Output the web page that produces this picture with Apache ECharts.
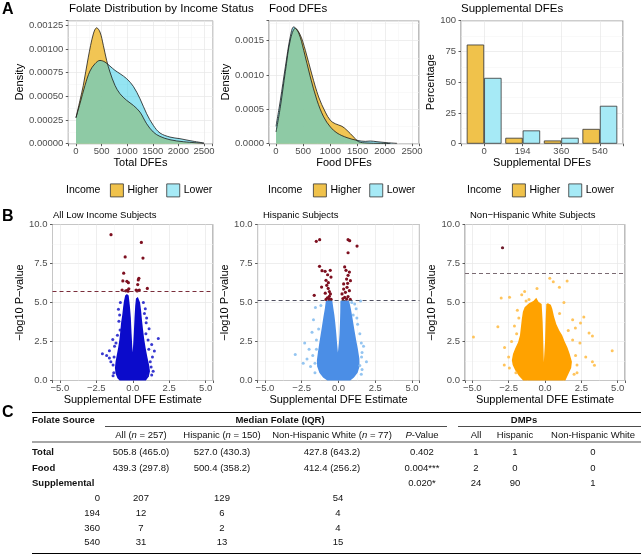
<!DOCTYPE html>
<html><head><meta charset="utf-8">
<script src="https://cdn.jsdelivr.net/npm/echarts@6/dist/echarts.min.js"></script>
<style>html,body{margin:0;padding:0;background:#fff}#c{width:643px;height:555px}</style>
</head><body><div id="c"></div>
<script>
// ---------------- DATA ----------------
// Panel A: density curves [DFE, density]
const totalHigher = [[0,0.000275],[78,0.000458],[143,0.000616],[241,0.000915],[339,0.00116],[404,0.001225],[469,0.00118],[534,0.00104],[599,0.00088],[664,0.000757],[762,0.000616],[859,0.000528],[990,0.000458],[1120,0.000405],[1250,0.000334],[1380,0.000211],[1510,0.000123],[1641,0.000077],[1836,0.000042],[2096,0.000021],[2500,0.000004]];
const totalLower = [[0,0.000275],[78,0.000423],[176,0.000616],[273,0.000768],[371,0.000845],[469,0.00088],[566,0.000863],[664,0.00082],[762,0.000775],[859,0.00074],[990,0.000687],[1120,0.000606],[1250,0.000475],[1380,0.000317],[1510,0.000194],[1641,0.000113],[1836,0.00007],[2031,0.000053],[2227,0.000032],[2500,0.000007]];
const foodHigher = [[0,0.00017],[80,0.000536],[172,0.00105],[263,0.00151],[355,0.00168],[447,0.00158],[539,0.00136],[662,0.001],[784,0.00068],[907,0.00046],[999,0.00034],[1091,0.00029],[1213,0.000253],[1305,0.000195],[1428,0.000097],[1520,0.000029],[1673,0.00001],[1918,0.000005],[2101,0.000002]];
const foodLower = [[0,0.000253],[80,0.000633],[172,0.00112],[263,0.00156],[325,0.0017],[417,0.00161],[509,0.00136],[631,0.00097],[754,0.00063],[876,0.00039],[999,0.000244],[1121,0.000156],[1305,0.000088],[1489,0.000049],[1642,0.000034],[1734,0.000039],[1857,0.000029],[2040,0.000015],[2224,0.000005]];
// Supplemental DFEs percentages
const suppCats = ['0','194','360','540'];
const suppHigher = [80.6, 4.8, 2.6, 12.0];
const suppLower = [53.5, 10.8, 4.8, 30.8];

// Panel B: volcano plots [estimate, -log10 p]
const v1Thresh = 5.7, v2Thresh = 5.15, v3Thresh = 6.85;
const v1Sig = [[-1.49,9.35],[0.59,8.85],[-0.52,7.92],[0.7,7.85],[-0.62,6.88],[0.42,6.55],[-0.68,6.38],[-0.4,6.36],[-0.3,6.27],[0.38,6.45],[0.34,6.15],[-0.73,5.8],[-0.37,5.78],[-0.27,5.88],[0.23,5.8],[0.45,5.8],[1.0,5.9],[-0.48,5.75],[-0.32,5.72],[0.3,5.74]];
const v1Cloud = [[-0.9,0],[-1.05,0.15],[-1.18,0.45],[-1.22,0.8],[-1.18,1.2],[-1.1,1.6],[-1.0,2.1],[-0.92,2.6],[-0.86,3.1],[-0.8,3.7],[-0.72,4.2],[-0.66,4.7],[-0.6,5.1],[-0.52,5.45],[-0.4,5.55],[-0.28,5.45],[-0.2,4.8],[-0.13,4.0],[-0.08,3.0],[-0.04,2.3],[-0.01,1.8],[0.03,2.3],[0.07,3.0],[0.12,4.0],[0.17,4.8],[0.22,5.25],[0.35,5.35],[0.5,5.0],[0.57,4.5],[0.63,3.9],[0.7,3.3],[0.78,2.7],[0.88,2.1],[1.0,1.5],[1.12,1.0],[1.18,0.6],[1.1,0.25],[0.9,0]];
const v1Out = [[-2.08,1.71],[-1.79,1.6],[-1.6,1.9],[-1.37,2.63],[-1.25,2.2],[-1.5,1.2],[-1.35,1.0],[-0.98,4.56],[-0.87,3.24],[-0.95,3.8],[-1.05,2.9],[-1.6,1.45],[-1.3,0.5],[1.75,2.7],[1.12,3.32],[0.92,3.7],[1.48,1.89],[1.26,0.87],[1.2,1.2],[0.86,4.6],[0.73,5.0],[1.3,2.3],[1.05,2.6],[1.35,1.5],[1.4,0.6],[0.95,4.0],[-0.85,5.0],[1.0,0.3],[-1.28,1.5],[-1.15,2.4],[-0.9,4.2],[0.8,4.3],[0.9,3.0],[1.1,2.0],[-1.35,0.3],[1.3,0.35]];
const v2Sig = [[-1.51,8.92],[-1.28,9.03],[-1.29,7.32],[-1.12,7.04],[-0.91,7.0],[-0.56,7.06],[-0.74,6.78],[-0.51,6.63],[-0.85,6.42],[-0.69,6.27],[-1.15,5.99],[-0.8,6.1],[-0.7,5.9],[-0.62,5.7],[-0.55,5.55],[-0.9,5.6],[-1.65,5.46],[-0.62,5.4],[-0.75,5.3],[-0.65,5.25],[-0.85,5.2],[-0.5,5.2],[0.65,9.03],[0.76,8.96],[1.26,8.62],[0.65,8.19],[0.42,7.28],[0.51,7.06],[0.74,6.95],[0.65,6.74],[0.55,6.5],[0.81,6.4],[0.62,6.23],[0.35,6.19],[0.58,5.97],[0.35,5.86],[0.74,5.76],[0.47,5.65],[0.24,5.55],[0.65,5.38],[0.42,5.33],[0.3,5.25],[0.55,5.22],[0.8,5.2]];
const v2Cloud = [[-0.76,0],[-1.05,0.2],[-1.3,0.5],[-1.45,0.9],[-1.47,1.3],[-1.4,1.8],[-1.32,2.3],[-1.22,2.9],[-1.12,3.5],[-1.02,4.1],[-0.93,4.6],[-0.86,5.1],[-0.65,5.15],[-0.42,5.12],[-0.36,4.7],[-0.28,4.2],[-0.22,3.7],[-0.15,3.0],[-0.1,2.4],[-0.04,1.8],[0.03,2.4],[0.07,3.0],[0.1,3.7],[0.12,4.4],[0.13,5.12],[0.45,5.15],[0.72,5.12],[0.84,4.6],[0.95,4.0],[1.07,3.3],[1.2,2.6],[1.32,2.0],[1.42,1.4],[1.43,0.9],[1.3,0.5],[1.05,0.2],[0.8,0]];
const v2Out = [[-2.94,1.66],[-2.3,2.4],[-2.14,1.38],[-1.8,3.1],[-1.57,4.68],[-1.7,3.9],[-2.0,2.0],[-1.9,0.9],[-1.75,1.6],[-2.4,1.1],[-1.2,4.8],[1.57,1.5],[1.45,0.96],[1.5,5.1],[1.0,4.2],[1.3,3.6],[1.7,2.2],[1.6,0.7],[1.9,1.2],[1.2,4.6],[1.45,3.0],[-1.5,2.6],[1.1,4.9],[0.9,5.0],[-1.6,1.1],[-1.5,2.0],[-1.35,3.3],[-1.6,0.5],[1.55,2.4],[1.6,1.8],[1.25,4.0],[1.55,0.4]];
const v3Sig = [[-2.92,8.51]];
const v3Cloud = [[-1.5,0],[-1.8,0.3],[-2.05,0.65],[-2.22,1.0],[-2.28,1.3],[-2.2,1.7],[-2.05,2.05],[-1.85,2.45],[-1.72,2.9],[-1.66,3.4],[-1.6,3.9],[-1.52,4.4],[-1.4,4.7],[-1.1,4.95],[-0.8,5.1],[-0.6,5.3],[-0.45,5.05],[-0.23,4.9],[-0.16,3.74],[-0.12,2.46],[-0.08,1.17],[0.0,2.46],[0.04,3.74],[0.09,4.9],[0.2,4.95],[0.4,4.85],[0.5,4.6],[0.62,4.1],[0.78,3.6],[0.98,3.2],[1.18,2.9],[1.35,2.5],[1.55,2.1],[1.7,1.7],[1.85,1.2],[1.8,0.8],[1.6,0.4],[1.4,0]];
const v3Out = [[-4.92,2.79],[-3.24,3.44],[-3.01,5.29],[-2.44,5.33],[-2.78,2.12],[-2.8,1.0],[-2.5,1.5],[-2.3,2.5],[-2.1,3.5],[-1.9,4.5],[-1.6,5.5],[-1.4,5.7],[-0.55,5.9],[0.33,6.55],[0.57,6.33],[1.52,6.38],[0.99,5.97],[2.67,4.07],[2.44,3.68],[2.09,3.36],[3.03,3.04],[3.26,2.85],[4.62,1.91],[3.26,1.2],[3.4,0.98],[2.8,1.5],[2.2,1.0],[2.4,2.4],[1.9,3.9],[1.3,5.0],[-1.1,5.2],[-2.0,0.5],[2.0,0.4],[-2.45,0.8],[-1.95,3.0],[-1.8,4.0],[1.9,2.6],[2.1,1.6],[1.6,3.2],[1.0,4.3],[-1.3,5.1],[2.2,0.5]];

// Panel C: table
const tblColHeads = ['All ({i|n} = 257)','Hispanic ({i|n} = 150)','Non-Hispanic White ({i|n} = 77)','{i|P}-Value','All','Hispanic','Non-Hispanic White'];
const tblRowLabels = ['Total','Food','Supplemental'];
const tblTotal = ['505.8 (465.0)','527.0 (430.3)','427.8 (643.2)','0.402','1','1','0'];
const tblFood = ['439.3 (297.8)','500.4 (358.2)','412.4 (256.2)','0.004***','2','0','0'];
const tblSupp = ['','','','0.020*','24','90','1'];
const tblLevels = ['0','194','360','540'];
const tblLevelAll = ['207','12','7','31'];
const tblLevelHisp = ['129','6','2','13'];
const tblLevelNHW = ['54','4','4','15'];

// ---------------- STYLE ----------------
const FONT = '"Liberation Sans", Arial, sans-serif';
const GOLD = '#F0C24B', CYAN = '#A6EAF6';
const gridBox = {show:true, borderColor:'#7a7a7a', borderWidth:1, backgroundColor:'#fff'};
function fmtStep(step, dec, minus){
  return function(v){
    const r = v/step;
    if (Math.abs(r-Math.round(r))>1e-6) return '';
    let s = v.toFixed(dec);
    if (minus) s = s.replace('-', '\u2212');
    return s;
  };
}
function axis(g, o){
  return Object.assign({
    type:'value', gridIndex:g,
    axisLine:{show:false, onZero:false},
    axisTick:{show:true, length:2.5, lineStyle:{color:'#333', width:0.8}},
    axisLabel:{fontSize:9.5, color:'#4d4d4d', fontFamily:FONT, margin:3},
    splitLine:{show:true, lineStyle:{color:'#E6E6E6', width:0.7}},
    minorTick:{show:false, splitNumber:2},
    minorSplitLine:{show:true, lineStyle:{color:'#F3F3F3', width:0.5}},
    nameLocation:'middle',
    nameTextStyle:{fontSize:11, color:'#000', fontFamily:FONT}
  }, o);
}

const grids = [
  Object.assign({left:68.3, top:20.7, width:144.4, height:123}, gridBox),
  Object.assign({left:269, top:20.7, width:150, height:123}, gridBox),
  Object.assign({left:461, top:20.7, width:162, height:123}, gridBox),
  Object.assign({left:52.5, top:224.5, width:160.5, height:156}, gridBox),
  Object.assign({left:257.6, top:224.5, width:161.8, height:156}, gridBox),
  Object.assign({left:465, top:224.5, width:160, height:156}, gridBox)
];

const xl = (f)=>({fontSize:9.5,color:'#4d4d4d',fontFamily:FONT,margin:3,formatter:f});
const xAxes = [
  axis(0,{min:-150,max:2670,minInterval:500,maxInterval:500,name:'Total DFEs',nameGap:13,axisLabel:xl(fmtStep(500,0))}),
  axis(1,{min:-129,max:2629,minInterval:500,maxInterval:500,name:'Food DFEs',nameGap:13,axisLabel:xl(fmtStep(500,0))}),
  axis(2,{min:0.4,max:4.6,minInterval:1,maxInterval:1,name:'Supplemental DFEs',nameGap:13,minorSplitLine:{show:false},
    axisLabel:xl(function(v){const r=Math.round(v);return Math.abs(v-r)<1e-6&&r>=1&&r<=suppCats.length?suppCats[r-1]:'';})}),
  axis(3,{min:-5.5,max:5.5,minInterval:2.5,maxInterval:2.5,name:'Supplemental DFE Estimate',nameGap:11,axisLabel:xl(fmtStep(2.5,1,true))}),
  axis(4,{min:-5.5,max:5.5,minInterval:2.5,maxInterval:2.5,name:'Supplemental DFE Estimate',nameGap:11,axisLabel:xl(fmtStep(2.5,1,true))}),
  axis(5,{min:-5.5,max:5.5,minInterval:2.5,maxInterval:2.5,name:'Supplemental DFE Estimate',nameGap:11,axisLabel:xl(fmtStep(2.5,1,true))})
];
const yLab = (f)=>({fontSize:9.5,color:'#4d4d4d',fontFamily:FONT,margin:5,formatter:f});
const yAxes = [
  axis(0,{min:0,max:0.0013,interval:0.00025,name:'Density',nameGap:43,axisLabel:yLab(fmtStep(0.00025,5))}),
  axis(1,{min:0,max:0.00179,interval:0.0005,name:'Density',nameGap:36.5,axisLabel:yLab(fmtStep(0.0005,4))}),
  axis(2,{min:0,max:100,interval:25,name:'Percentage',nameGap:22.5,axisLabel:yLab(fmtStep(25,0))}),
  axis(3,{min:0,max:10,interval:2.5,name:'\u2212log10 P\u2212value',nameGap:27,axisLabel:yLab(fmtStep(2.5,1))}),
  axis(4,{min:0,max:10,interval:2.5,name:'\u2212log10 P\u2212value',nameGap:22,axisLabel:yLab(fmtStep(2.5,1))}),
  axis(5,{min:0,max:10,interval:2.5,name:'\u2212log10 P\u2212value',nameGap:26.5,axisLabel:yLab(fmtStep(2.5,1))})
];

function area(name, data, g, color, opacity){
  return {type:'line', name:name, xAxisIndex:g, yAxisIndex:g, data:data, smooth:0.35, showSymbol:false, symbol:'none',
    lineStyle:{color:'#1a1a1a', width:0.8}, itemStyle:{color:color},
    areaStyle:{color:color, opacity:opacity}, silent:true, z:2};
}
function cloud(data, g, color){
  return {type:'custom', xAxisIndex:g, yAxisIndex:g, data:data, silent:true, z:2,
    renderItem:function(params, api){
      if (params.dataIndex !== 0) return null;
      return {type:'polygon', shape:{points:data.map(p=>api.coord(p))}, style:{fill:color}};
    }};
}
function pts(data, g, color, size, opacity, thresh, lineColor){
  const s = {type:'scatter', xAxisIndex:g, yAxisIndex:g, data:data, symbolSize:size, silent:true, z:3,
    itemStyle:{color:color, opacity:opacity}};
  if (thresh !== undefined) s.markLine = {silent:true, symbol:'none', label:{show:false},
    lineStyle:{color:lineColor, type:[4,3], width:1}, data:[{yAxis:thresh}]};
  return s;
}

const series = [
  area('Higher', totalHigher, 0, GOLD, 0.95),
  area('Lower', totalLower, 0, '#3CCDE8', 0.55),
  area('Higher', foodHigher, 1, GOLD, 0.95),
  area('Lower', foodLower, 1, '#3CCDE8', 0.55),
  {type:'bar', name:'Higher', xAxisIndex:2, yAxisIndex:2, data:suppHigher.map((v,i)=>[i+1,v]), barWidth:17.4, barGap:'0%',
    itemStyle:{color:GOLD, borderColor:'#333', borderWidth:0.8}, silent:true},
  {type:'bar', name:'Lower', xAxisIndex:2, yAxisIndex:2, data:suppLower.map((v,i)=>[i+1,v]), barWidth:17.4, barGap:'0%',
    itemStyle:{color:CYAN, borderColor:'#333', borderWidth:0.8}, silent:true},
  cloud(v1Cloud, 3, '#0B0BCB'),
  pts(v1Out, 3, '#1515C8', 3, 0.85),
  pts(v1Sig, 3, '#7E1020', 3.2, 1, v1Thresh, '#7A2E3B'),
  cloud(v2Cloud, 4, '#4B8EE6'),
  pts(v2Out, 4, '#88BFF0', 3, 0.9),
  pts(v2Sig, 4, '#7E1020', 3.2, 1, v2Thresh, '#505060'),
  cloud(v3Cloud, 5, '#FFA200'),
  pts(v3Out, 5, '#FFBE4A', 3, 0.9),
  pts(v3Sig, 5, '#6E1A2A', 3.2, 1, v3Thresh, '#7a6a72')
];

const legItem = (n,c)=>({name:n, icon:'rect', itemStyle:{color:c, borderColor:'#333', borderWidth:0.8}});
function legend(left){
  return {left:left, top:183.5, orient:'horizontal', itemWidth:13, itemHeight:13, itemGap:8, selectedMode:false,
    padding:0, textStyle:{fontSize:10.5, color:'#000', fontFamily:FONT, padding:[0,0,0,-1]},
    data:[legItem('Higher',GOLD), legItem('Lower',CYAN)]};
}

const titles = [
  {text:'A', left:2, top:2},
  {text:'B', left:2, top:209},
  {text:'C', left:2, top:405}
].map(t=>Object.assign(t,{padding:0, textStyle:{fontSize:16, fontWeight:'bold', color:'#000', fontFamily:FONT}}));
[
  ['Folate Distribution by Income Status', 69, 3, 11.5],
  ['Food DFEs', 269, 3, 11.5],
  ['Supplemental DFEs', 461, 3, 11.5],
  ['All Low Income Subjects', 53, 210, 9.5],
  ['Hispanic Subjects', 263, 210, 9.5],
  ['Non\u2212Hispanic White Subjects', 470, 210, 9.5]
].forEach(a=>titles.push({text:a[0], left:a[1], top:a[2], padding:0, textStyle:{fontSize:a[3], fontWeight:'normal', color:'#000', fontFamily:FONT}}));

// ---------------- TABLE (graphic) ----------------
const TF = 9.5;
const rich = {i:{fontStyle:'italic', fontSize:TF, fontFamily:FONT, fill:'#111'}};
const g = [];
function txt(s, x, y, align, bold){
  g.push({type:'text', x:x, y:y, silent:true, style:{text:s, fontSize:TF, fontFamily:FONT, fontWeight:bold?'bold':'normal', fill:'#111', align:align, verticalAlign:'middle', rich:rich}});
}
function hline(x1, x2, y, w){
  g.push({type:'line', silent:true, shape:{x1:x1, y1:y, x2:x2, y2:y}, style:{stroke:'#000', lineWidth:w}});
}
['Income','Income','Income'].forEach((s,i)=>g.push({type:'text', x:[66,268,467][i], y:190.5, silent:true, style:{text:s, fontSize:10.5, fontFamily:FONT, fill:'#000', verticalAlign:'middle'}}));
hline(32, 641, 412.5, 1.2);
hline(105, 447, 426.5, 0.7);
hline(458, 641, 426.5, 0.7);
hline(32, 641, 442, 0.7);
hline(32, 641, 553.5, 1.2);
txt('Folate Source', 32, 420.5, 'left', true);
txt('Median Folate (IQR)', 280, 420.5, 'center', true);
txt('DMPs', 524, 420.5, 'center', true);
const colX = [141, 222, 332, 422, 476, 515, 593];
tblColHeads.forEach((s,i)=>txt(s, colX[i], 435, 'center'));
const rowY = [452.3, 468.3, 483.3];
[tblTotal, tblFood, tblSupp].forEach((row,r)=>{
  txt(tblRowLabels[r], 32, rowY[r], 'left', true);
  row.forEach((s,i)=>{ if (s) txt(s, colX[i], rowY[r], 'center'); });
});
const levY = [498.3, 513.3, 528.3, 542.8];
tblLevels.forEach((s,i)=>{
  txt(s, 100, levY[i], 'right');
  txt(tblLevelAll[i], colX[0], levY[i], 'center');
  txt(tblLevelHisp[i], colX[1], levY[i], 'center');
  txt(tblLevelNHW[i], 338, levY[i], 'center');
});

const chart = echarts.init(document.getElementById('c'), null, {renderer:'canvas', width:643, height:555});
chart.setOption({
  animation:false,
  backgroundColor:'#fff',
  title:titles,
  legend:[legend(110), legend(313), legend(512)],
  grid:grids, xAxis:xAxes, yAxis:yAxes, series:series,
  graphic:g
});
</script></body></html>
